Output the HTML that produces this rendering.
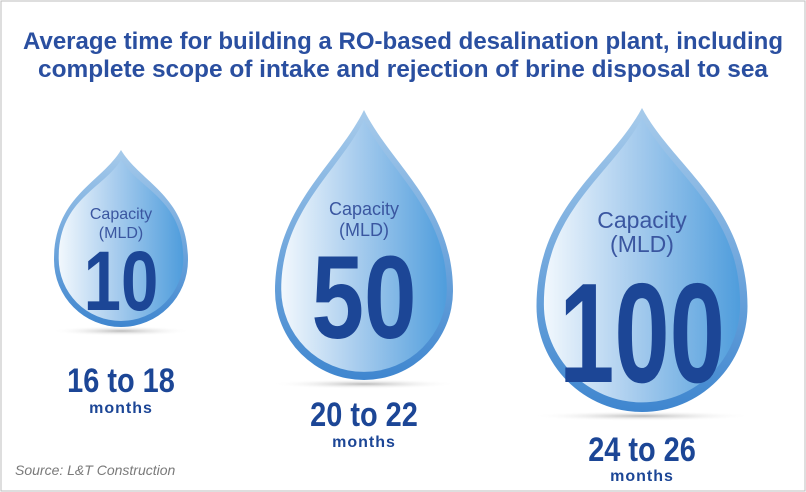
<!DOCTYPE html>
<html><head><meta charset="utf-8"><style>
body{margin:0;background:#fff}
svg{display:block;font-family:"Liberation Sans",sans-serif}
</style></head><body>
<svg width="806" height="492" viewBox="0 0 806 492">
<defs>
<linearGradient id="g" x1="0" y1="0" x2="1" y2="0">
<stop offset="0" stop-color="#f2f8fd"/><stop offset="0.45" stop-color="#a9cdee"/><stop offset="1" stop-color="#4f9ddc"/>
</linearGradient>
<linearGradient id="rim" x1="0" y1="0" x2="0" y2="1">
<stop offset="0" stop-color="#a7cbeb"/><stop offset="1" stop-color="#3f86cf"/>
</linearGradient>
<radialGradient id="sh"><stop offset="0" stop-color="#bbb"/><stop offset="1" stop-color="#fff" stop-opacity="0"/></radialGradient>
</defs>
<rect x="1" y="1" width="804" height="490" fill="#fff" stroke="#bdbdbd"/>
<text x="403" y="49" text-anchor="middle" font-size="24" font-weight="bold" fill="#2a4fa0" textLength="760" lengthAdjust="spacingAndGlyphs">Average time for building a RO-based desalination plant, including</text>
<text x="403" y="77" text-anchor="middle" font-size="24" font-weight="bold" fill="#2a4fa0" textLength="730" lengthAdjust="spacingAndGlyphs">complete scope of intake and rejection of brine disposal to sea</text>
<g id="drops"></g>
<text x="15" y="475" font-size="14" font-style="italic" fill="#7a7a7a">Source: L&amp;T Construction</text>
</svg>
<script>
const capacities=["10","50","100"];
const durations=["16 to 18","20 to 22","24 to 26"];
const ns="http://www.w3.org/2000/svg";
const g=document.getElementById('drops');
const lay=[
 {cx:121,top:150,bot:327,w:134,cap:16,capY:219,mldY:238,num:84,numY:310,sx:0.8,dur:34,durY:392,monY:413},
 {cx:364,top:110,bot:380,w:178,cap:18,capY:215,mldY:236,num:118,numY:338,sx:0.8,dur:34,durY:426,monY:447},
 {cx:642,top:108,bot:412,w:211,cap:23,capY:228,mldY:252,num:142,numY:382,sx:0.7,dur:34,durY:461,monY:481}
];
function el(t,a,txt){const e=document.createElementNS(ns,t);for(const k in a)e.setAttribute(k,a[k]);if(txt)e.textContent=txt;g.appendChild(e);return e;}
function dropPath(x,top,cy,r){
 return `M${x},${top} C${x+r*0.3},${top+(cy-top)*0.3} ${x+r},${cy-r*0.95} ${x+r},${cy} A${r},${r} 0 0 1 ${x-r},${cy} C${x-r},${cy-r*0.95} ${x-r*0.3},${top+(cy-top)*0.3} ${x},${top} Z`;
}
capacities.forEach((c,i)=>{
 const L=lay[i],r=L.w/2,cy=L.bot-r,x=L.cx;
 const s=el('ellipse',{cx:x,cy:L.bot+4,rx:r*1.05,ry:5,fill:'url(#sh)'});
 
 
 const p=el('path',{d:dropPath(x,L.top,cy,r),fill:'url(#rim)'});
 
 
 const ir=r*0.93,icy=cy-r*0.02;
 const p2=el('path',{d:dropPath(x,L.top+10,icy,ir),fill:'url(#g)'});
 
 
 const t1=el('text',{x:x,y:L.capY,'text-anchor':'middle','font-size':L.cap,fill:'#3a56a0'},'Capacity');
 
 
 const t2=el('text',{x:x,y:L.mldY,'text-anchor':'middle','font-size':L.cap,fill:'#3a56a0'},'(MLD)');
 
 
 const t3=el('text',{x:x,y:L.numY,'text-anchor':'middle','font-size':L.num,'font-weight':'bold',fill:'#1c4696',transform:`translate(${x},0) scale(${L.sx},1) translate(${-x},0)`},c);
 
 
 const t4=el('text',{x:x,y:L.durY,'text-anchor':'middle','font-size':L.dur,'font-weight':'bold',fill:'#1c4696',transform:`translate(${x},0) scale(0.85,1) translate(${-x},0)`},durations[i]);
 
 
 const t5=el('text',{x:x,y:L.monY,'text-anchor':'middle','font-size':16,'font-weight':'bold',fill:'#1c4696','letter-spacing':'1'},'months');
 
 
});
</script>
</body></html>
